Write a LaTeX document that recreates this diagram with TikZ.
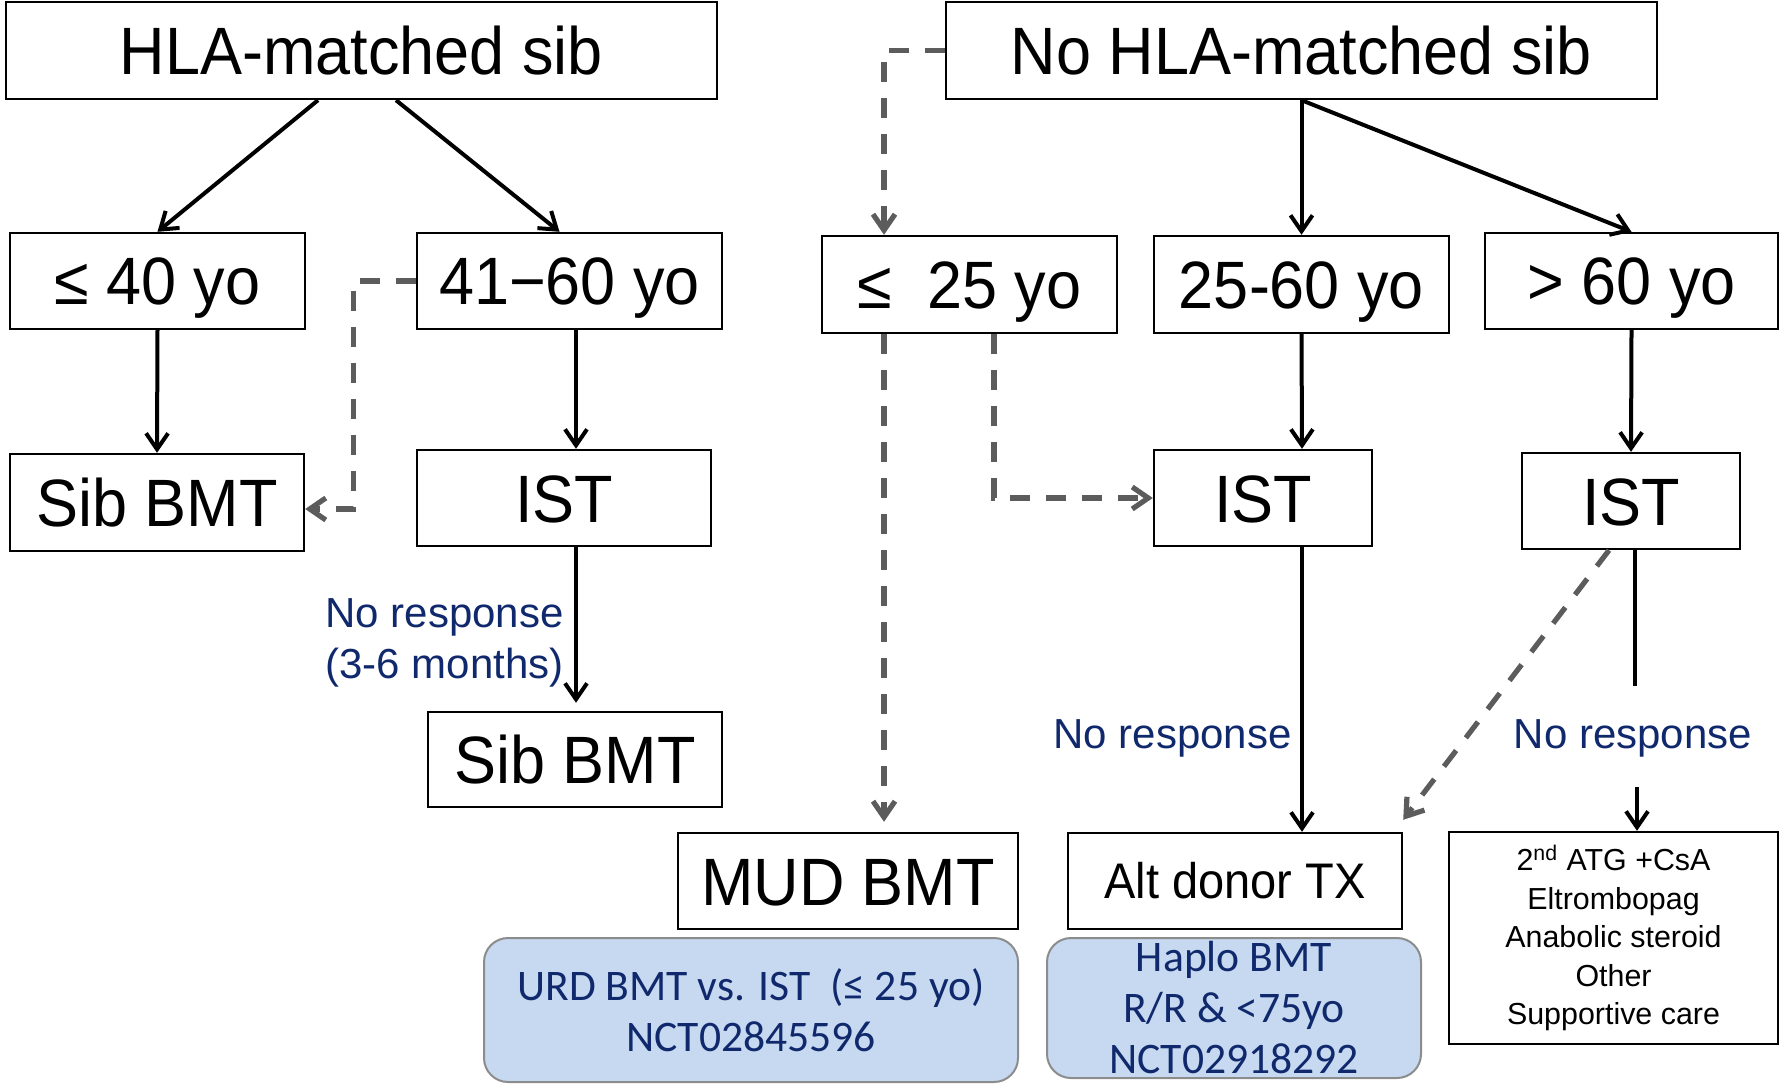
\documentclass[tikz,border=0pt]{standalone}
\usepackage{fontspec}
\setmainfont{Liberation Sans}
\newfontfamily\narrowf{Liberation Sans}[FakeStretch=0.94]
\newfontfamily\calib{Carlito}
\usetikzlibrary{arrows.meta}
\definecolor{navy}{RGB}{16,40,108}
\definecolor{bfill}{RGB}{198,217,240}
\definecolor{bborder}{RGB}{140,140,140}
\definecolor{dgray}{RGB}{92,92,92}
\tikzset{
  box/.style={draw, line width=1.2pt, inner sep=0pt,
    font=\narrowf\fontsize{33.5}{40}\selectfont, text height=24pt, text depth=0pt},
  smallbox/.style={draw, line width=1.2pt, inner sep=0pt,
    font=\narrowf\fontsize{25}{30}\selectfont, text height=17.9pt, text depth=0pt},
  listbox/.style={draw, line width=1.2pt, inner sep=0pt, align=center,
    font=\fontsize{15.2}{19.3}\selectfont},
  bluebox/.style={draw=bborder, fill=bfill, rounded corners=12pt, line width=1pt,
    inner sep=0pt, align=center, text=navy, font=\calib\fontsize{21.8}{25.5}\selectfont},
  nr/.style={inner sep=0pt, text=navy, align=left, font=\fontsize{21}{25.5}\selectfont},
  arr/.style={line width=2pt, -{Straight Barb[length=8pt,width=11pt]}},
  plainline/.style={line width=2pt},
  darr/.style={line width=2.6pt, dgray, dash pattern=on 10pt off 8pt,
    -{Straight Barb[length=8pt,width=11pt]}}
}
\begin{document}
\begin{tikzpicture}[x=0.5pt,y=-0.5pt]
\useasboundingbox (0,0) rectangle (1780,1085);
% boxes
\node[box, minimum width=355.5pt, minimum height=48.5pt] (hla) at (361.5,50.5) {HLA-matched sib};
\node[box, minimum width=355.5pt, minimum height=48.5pt] (nohla) at (1301.5,50.5) {No HLA-matched sib};
\node[box, minimum width=147.5pt, minimum height=48pt] (a40) at (157.5,281) {≤ 40 yo};
\node[box, minimum width=152.5pt, minimum height=48pt] (a4160) at (569.5,281) {41−60 yo};
\node[box, minimum width=147.5pt, minimum height=48.5pt] (a25) at (969.5,284.5) {≤\ \ 25 yo};
\node[box, minimum width=147.5pt, minimum height=48.5pt] (a2560) at (1301.5,284.5) {25-60 yo};
\node[box, minimum width=146.5pt, minimum height=48pt] (a60) at (1631.5,281) {> 60 yo};
\node[box, minimum width=147pt, minimum height=48.5pt] (sib1) at (157,502.5) {Sib BMT};
\node[box, minimum width=147pt, minimum height=48pt] (ist1) at (564,498) {IST};
\node[box, minimum width=109pt, minimum height=48pt] (ist2) at (1263,498) {IST};
\node[box, minimum width=109pt, minimum height=48pt] (ist3) at (1631,501) {IST};
\node[box, minimum width=147pt, minimum height=47.5pt] (sib2) at (575,759.5) {Sib BMT};
\node[box, minimum width=170pt, minimum height=48pt] (mud) at (848,881) {MUD BMT};
\node[smallbox, minimum width=167pt, minimum height=48pt] (alt) at (1235,881) {Alt donor TX};
\node[listbox, minimum width=164.5pt, minimum height=106pt] (list) at (1613.5,938)
  {2\textsuperscript{nd} ATG +CsA\\Eltrombopag\\Anabolic steroid\\Other\\Supportive care};
\node[bluebox, minimum width=267pt, minimum height=72pt] (urd) at (751,1010)
  {URD BMT vs. IST\ \ (≤ 25 yo)\\NCT02845596};
\node[bluebox, minimum width=187pt, minimum height=70pt] (haplo) at (1234,1008)
  {Haplo BMT\\R/R \& <75yo\\NCT02918292};
% labels
\node[nr, anchor=west] (nr1) at (325,643) {No response\\(3-6 months)};
\node[nr] (nr2) at (1172.5,738) {No response};
\node[nr] (nr3) at (1633,738) {No response};
% connectors
\draw[arr] ([xshift=-21.75pt]hla.south) -- (a40.north);
\draw[arr] ([xshift=17.25pt]hla.south) -- ([xshift=-5pt]a4160.north);
\draw[arr] (a40.south) -- (sib1.north);
\draw[arr] ([xshift=3.25pt]a4160.south) -- ([xshift=6pt]ist1.north);
\draw[arr] ([xshift=6pt]ist1.south) -- ([xshift=0.5pt,yshift=4pt]sib2.north);
\draw[darr] (a4160.west) -- ++(-62,0) |- ([yshift=-3.25pt]sib1.east);
\draw[darr] (nohla.west) -| ([xshift=-42.75pt]a25.north);
\draw[arr] (nohla.south) -- (a2560.north);
\draw[arr] (nohla.south) -- (a60.north);
\draw[arr] (a2560.south) -- ([xshift=19.5pt]ist2.north);
\draw[arr] (a60.south) -- (ist3.north);
\draw[darr] ([xshift=-42.75pt]a25.south) -- ([xshift=18pt,yshift=5pt]mud.north);
\draw[darr] ([xshift=12.25pt]a25.south) |- (ist2.west);
\draw[arr] ([xshift=19.5pt]ist2.south) -- ([xshift=33.5pt]alt.north);
\coordinate (e1) at (1635,686);
\coordinate (e2) at (1637,787);
\draw[plainline] ([xshift=2pt]ist3.south) -- (e1);
\draw[arr] (e2) -- ([xshift=11.75pt]list.north);
\draw[darr] ([xshift=-11pt]ist3.south) -- ([yshift=6pt]alt.north east);
\end{tikzpicture}
\end{document}
